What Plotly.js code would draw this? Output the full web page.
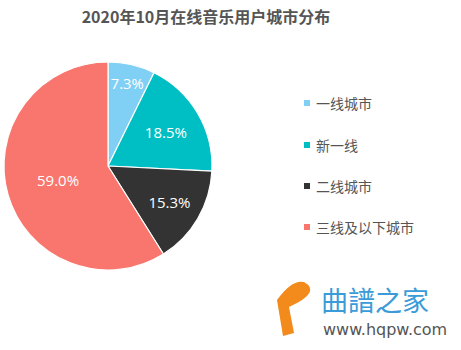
<!DOCTYPE html>
<html><head><meta charset="utf-8">
<script src="https://cdn.plot.ly/plotly-3.0.1.min.js"></script>
<style>html,body{margin:0;padding:0;background:#fff;}</style>
</head><body>
<div id="chart" style="width:461px;height:350px;"></div>
<script>
const labels = ['一线城市', '新一线', '二线城市', '三线及以下城市'];
const values = [7.3, 18.5, 15.3, 59.0];
const colors = ['#7fd0f4', '#00bfc4', '#333333', '#f8766d'];
const titleText = '2020年10月在线音乐用户城市分布';

const W = 461, H = 350;
const px = x => x / W;
const py = y => 1 - y / H;

const trace = {
  type: 'pie',
  labels: labels,
  values: values,
  sort: false,
  direction: 'clockwise',
  rotation: 0,
  marker: {colors: colors, line: {color: '#ffffff', width: 1.2}},
  texttemplate: '%{value:.1f}%',
  textposition: 'inside',
  insidetextorientation: 'horizontal',
  textfont: {family: 'Open Sans', size: 15, color: '#ffffff'},
  hoverinfo: 'label+percent',
  showlegend: false,
  domain: {x: [px(4), px(212)], y: [py(270), py(62)]}
};

const shapes = [];
const annotations = [];
const legendY = [103, 145, 186, 227];
labels.forEach((lab, i) => {
  const y = legendY[i];
  shapes.push({type: 'rect', xref: 'paper', yref: 'paper',
    x0: px(304), x1: px(310), y0: py(y + 3), y1: py(y - 3),
    fillcolor: colors[i], line: {width: 0}});
  annotations.push({xref: 'paper', yref: 'paper', x: px(314), y: py(y),
    xanchor: 'left', yanchor: 'middle', showarrow: false, text: lab,
    font: {family: 'Noto Sans CJK SC', size: 14, color: '#555555'}});
});

// watermark approximation
annotations.push({xref: 'paper', yref: 'paper', x: px(319), y: py(299), xanchor: 'left', yanchor: 'middle',
  showarrow: false, text: '曲譜之家', font: {family: 'Noto Sans CJK SC', size: 27, color: '#3a9bd8'}});
annotations.push({xref: 'paper', yref: 'paper', x: px(321), y: py(329), xanchor: 'left', yanchor: 'middle',
  showarrow: false, text: 'www.hqpw.com', font: {family: 'DejaVu Sans', size: 16, color: '#555555'}});
shapes.push({type: 'path', xref: 'paper', yref: 'paper',
  path: `M ${px(277)} ${py(300)} L ${px(283)} ${py(336)} L ${px(294)} ${py(333)} L ${px(289)} ${py(307)} Q ${px(322)} ${py(292)} ${px(304)} ${py(282)} Q ${px(292)} ${py(279)} ${px(277)} ${py(300)} Z`,
  fillcolor: '#f28a1c', line: {width: 0}});

const layout = {
  width: W, height: H,
  margin: {l: 0, r: 0, t: 0, b: 0},
  paper_bgcolor: '#ffffff',
  title: {text: '<b>' + titleText + '</b>', x: px(206), xanchor: 'center', y: py(17), yanchor: 'middle',
    font: {family: 'Noto Sans CJK SC', size: 16, color: '#555555'}},
  showlegend: false,
  shapes: shapes,
  annotations: annotations
};

Plotly.newPlot('chart', [trace], layout, {displayModeBar: false, staticPlot: true});
</script>
</body></html>
